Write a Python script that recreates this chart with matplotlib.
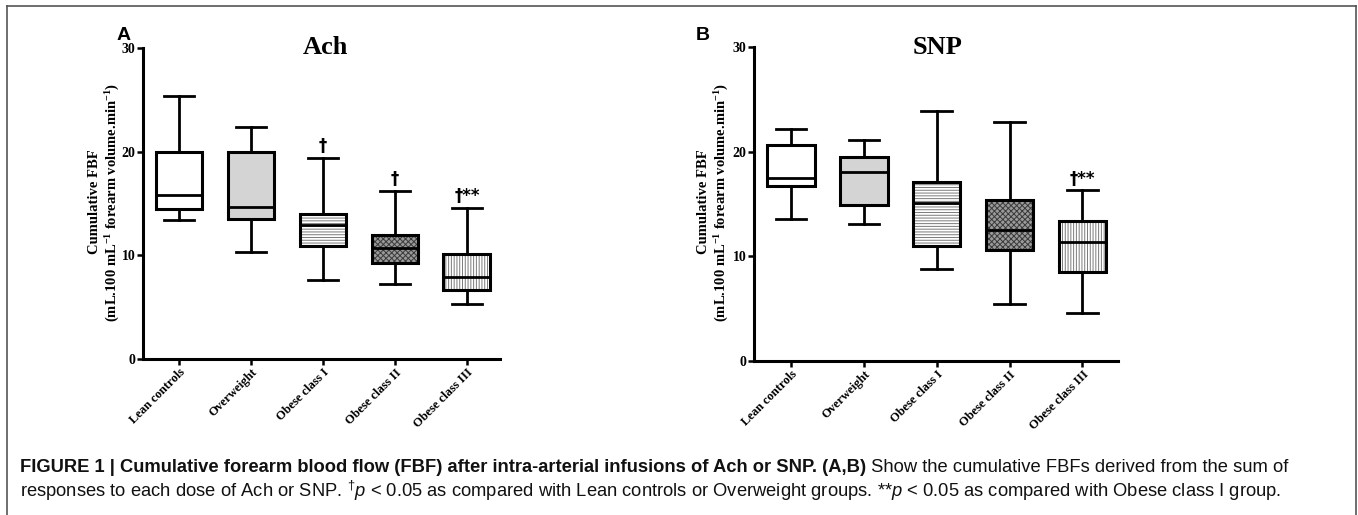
import matplotlib
matplotlib.use("Agg")
import matplotlib.pyplot as plt
from matplotlib.lines import Line2D

# ---------------- data ----------------
categories = ["Lean controls", "Overweight", "Obese class I", "Obese class II", "Obese class III"]

ach_whislo = [13.4, 10.3, 7.6, 7.2, 5.3]
ach_q1     = [14.5, 13.5, 10.9, 9.3, 6.65]
ach_med    = [15.8, 14.65, 12.9, 10.7, 7.9]
ach_q3     = [20.0, 19.95, 14.0, 12.0, 10.1]
ach_whishi = [25.4, 22.4, 19.4, 16.25, 14.55]
ach_marks  = ["", "", "\u2020", "\u2020", "\u2020**"]

snp_whislo = [13.55, 13.1, 8.8, 5.45, 4.6]
snp_q1     = [16.7, 14.9, 11.0, 10.6, 8.5]
snp_med    = [17.45, 18.05, 15.05, 12.5, 11.35]
snp_q3     = [20.6, 19.45, 17.1, 15.4, 13.35]
snp_whishi = [22.2, 21.15, 23.85, 22.8, 16.3]
snp_marks  = ["", "", "", "", "\u2020**"]

yticks = [0, 10, 20, 30]

# styles per group
face_colors = ["white", "#d4d4d4", "white", "#9a9a9a", "white"]
hatches     = [None, None, "------", "xxxxxx", "||||||"]
hatch_cols  = ["white", "#d4d4d4", "#7a7a7a", "#3a3a3a", "#7a7a7a"]

W, H = 1358, 515
fig = plt.figure(figsize=(W / 100, H / 100), dpi=100)
plt.rcParams['hatch.linewidth'] = 0.7

serif = "Liberation Serif"
sans = "Liberation Sans"


def panel(rect, xlim, wlo, q1, med, q3, whi, marks, title, title_x, letter, letter_xy, ylab_x):
    ax = fig.add_axes(rect)
    stats = []
    for i, c in enumerate(categories):
        stats.append(dict(label=c, whislo=wlo[i], q1=q1[i], med=med[i], q3=q3[i], whishi=whi[i], fliers=[]))
    pos = list(range(len(categories)))
    # fills with hatches
    for i in pos:
        b = ax.bxp([stats[i]], positions=[i], widths=0.65, patch_artist=True, showcaps=False,
                   boxprops=dict(facecolor=face_colors[i], edgecolor=hatch_cols[i], linewidth=0,
                                 hatch=hatches[i]),
                   whiskerprops=dict(linewidth=0), medianprops=dict(linewidth=0),
                   manage_ticks=False)
        for p in b['boxes']:
            p.set_zorder(1)
    # outlines
    ax.bxp(stats, positions=pos, widths=0.65, patch_artist=True, capwidths=0.42,
           boxprops=dict(facecolor="none", edgecolor="black", linewidth=2.2),
           whiskerprops=dict(color="black", linewidth=2.0),
           capprops=dict(color="black", linewidth=2.0),
           medianprops=dict(color="black", linewidth=2.0),
           manage_ticks=False, zorder=3)
    for i, m in enumerate(marks):
        if m:
            ax.annotate(m, (i, whi[i]), xytext=(0, 2), textcoords="offset points",
                        ha="center", va="bottom", fontsize=12, fontweight="bold",
                        family="DejaVu Sans")
    ax.set_xlim(*xlim)
    ax.set_ylim(0, 30)
    ax.set_yticks(yticks)
    ax.set_yticklabels([str(t) for t in yticks], family=serif, fontweight="bold", fontsize=10)
    ax.set_xticks(pos)
    ax.set_xticklabels(categories, rotation=45, ha="right", rotation_mode="anchor",
                       family=serif, fontweight="bold", fontsize=9)
    ax.tick_params(axis="both", width=1.8, length=4, pad=1.5, color="black")
    for s in ["top", "right"]:
        ax.spines[s].set_visible(False)
    for s in ["left", "bottom"]:
        ax.spines[s].set_linewidth(2.2)
    ax.patch.set_alpha(0)
    fig.text(title_x / W, 1 - 47 / H, title, family=serif, fontweight="bold", fontsize=19,
             ha="center", va="center")
    fig.text(letter_xy[0] / W, 1 - letter_xy[1] / H, letter, family=sans, fontweight="bold",
             fontsize=14, ha="center", va="center")
    fig.text(ylab_x / W, 1 - 202 / H,
             "Cumulative FBF\n(mL.100 mL$^{\\mathbf{-1}}$ forearm volume.min$^{\\mathbf{-1}}$)",
             rotation=90, ha="center", va="center", multialignment="center",
             family=serif, fontweight="bold", fontsize=10.5, linespacing=1.25)
    return ax


plt.rcParams['mathtext.fontset'] = 'custom'
plt.rcParams['mathtext.rm'] = 'Liberation Serif:bold'
plt.rcParams['mathtext.bf'] = 'Liberation Serif:bold'
plt.rcParams['mathtext.it'] = 'Liberation Serif:bold:italic'

panel([143 / W, 1 - 359 / H, 357 / W, 311 / H], (-0.5, 4.46),
      ach_whislo, ach_q1, ach_med, ach_q3, ach_whishi, ach_marks, "Ach", 325, "A", (124, 35), 105)
panel([754 / W, 1 - 361 / H, 364 / W, 314 / H], (-0.51, 4.49),
      snp_whislo, snp_q1, snp_med, snp_q3, snp_whishi, snp_marks, "SNP", 938, "B", (703, 35), 714)

# frame around figure (top, left, right)
for xs, ys in [((7 / W, 7 / W), (0, 1 - 6 / H)), ((7 / W, 1356 / W), (1 - 6 / H, 1 - 6 / H)),
               ((1356 / W, 1356 / W), (1 - 6 / H, 0))]:
    fig.add_artist(Line2D(xs, ys, color="#555555", linewidth=1.2))

# caption
cap_fs = 13.2
fig.canvas.draw()
r = fig.canvas.get_renderer()
t1 = fig.text(20 / W, 1 - 467 / H,
              "FIGURE 1 | Cumulative forearm blood flow (FBF) after intra-arterial infusions of Ach or SNP. (A,B)",
              family=sans, fontweight="bold", fontsize=cap_fs, va="center", ha="left", color="#111111")
bb = t1.get_window_extent(renderer=r)
fig.text(bb.x1 / W, 1 - 467 / H, " Show the cumulative FBFs derived from the sum of",
         family=sans, fontsize=cap_fs, va="center", ha="left", color="#111111")

plt.rcParams['mathtext.rm'] = 'Liberation Sans'
plt.rcParams['mathtext.it'] = 'Liberation Sans:italic'
fig.text(20 / W, 1 - 491 / H,
         r"responses to each dose of Ach or SNP. $^{\dagger}\mathit{p}$ < 0.05 as compared with Lean controls or Overweight groups. **$\mathit{p}$ < 0.05 as compared with Obese class I group.",
         family=sans, fontsize=cap_fs, va="center", ha="left", color="#111111")

fig.savefig("out.png", dpi=100)
